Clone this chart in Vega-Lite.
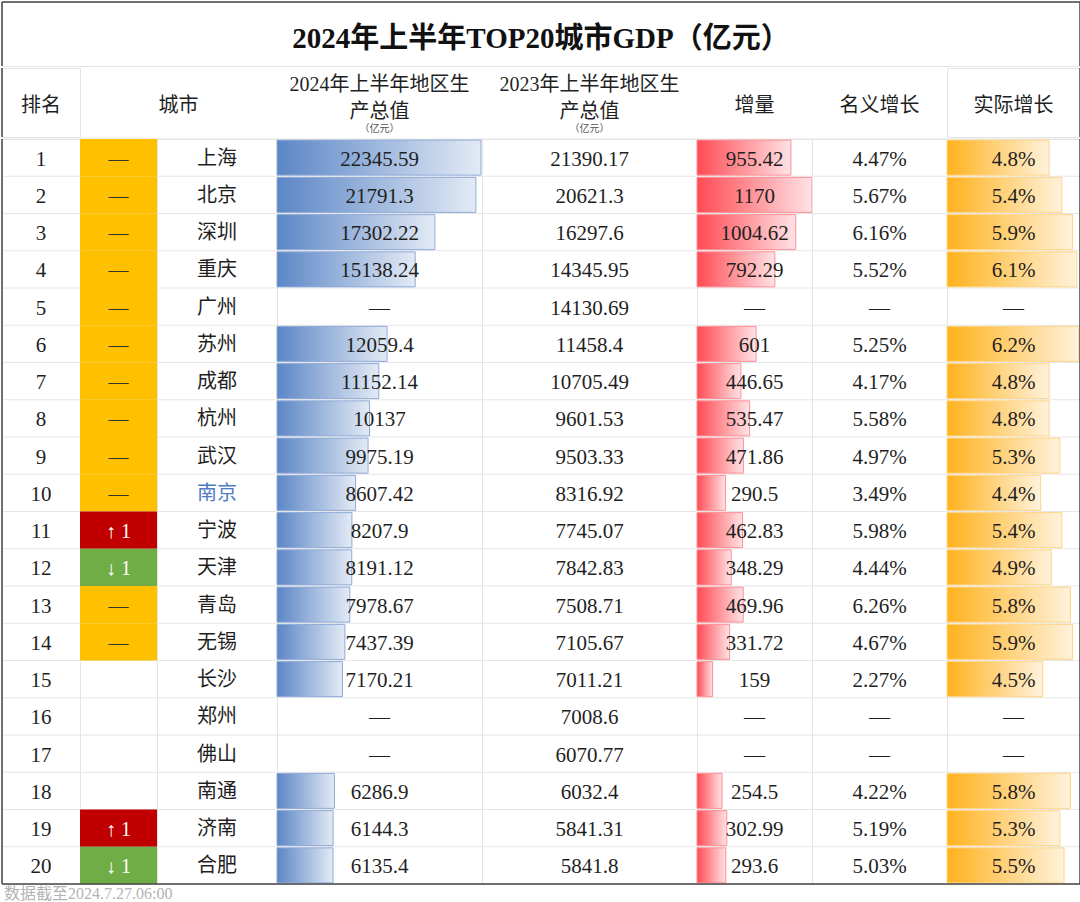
{
  "$schema": "https://vega.github.io/schema/vega-lite/v6.json",
  "padding": 0,
  "background": "white",
  "spacing": -3,
  "config": {
    "view": {"stroke": "#e4e4e4", "strokeWidth": 1},
    "concat": {"spacing": 0},
    "text": {"font": "'Liberation Serif', 'Noto Sans CJK SC'", "fontSize": 20, "color": "#1f1f1f"}
  },
  "datasets": {
    "rows": [
      {"rank": 1, "move": "—", "city": "上海", "gdp24": 22345.59, "gdp23": 21390.17, "inc": 955.42, "nominal": 0.0447, "real": 0.048},
      {"rank": 2, "move": "—", "city": "北京", "gdp24": 21791.3, "gdp23": 20621.3, "inc": 1170, "nominal": 0.0567, "real": 0.054},
      {"rank": 3, "move": "—", "city": "深圳", "gdp24": 17302.22, "gdp23": 16297.6, "inc": 1004.62, "nominal": 0.0616, "real": 0.059},
      {"rank": 4, "move": "—", "city": "重庆", "gdp24": 15138.24, "gdp23": 14345.95, "inc": 792.29, "nominal": 0.0552, "real": 0.061},
      {"rank": 5, "move": "—", "city": "广州", "gdp24": null, "gdp23": 14130.69, "inc": null, "nominal": null, "real": null},
      {"rank": 6, "move": "—", "city": "苏州", "gdp24": 12059.4, "gdp23": 11458.4, "inc": 601, "nominal": 0.0525, "real": 0.062},
      {"rank": 7, "move": "—", "city": "成都", "gdp24": 11152.14, "gdp23": 10705.49, "inc": 446.65, "nominal": 0.0417, "real": 0.048},
      {"rank": 8, "move": "—", "city": "杭州", "gdp24": 10137, "gdp23": 9601.53, "inc": 535.47, "nominal": 0.0558, "real": 0.048},
      {"rank": 9, "move": "—", "city": "武汉", "gdp24": 9975.19, "gdp23": 9503.33, "inc": 471.86, "nominal": 0.0497, "real": 0.053},
      {"rank": 10, "move": "—", "city": "南京", "gdp24": 8607.42, "gdp23": 8316.92, "inc": 290.5, "nominal": 0.0349, "real": 0.044},
      {"rank": 11, "move": "↑ 1", "city": "宁波", "gdp24": 8207.9, "gdp23": 7745.07, "inc": 462.83, "nominal": 0.0598, "real": 0.054},
      {"rank": 12, "move": "↓ 1", "city": "天津", "gdp24": 8191.12, "gdp23": 7842.83, "inc": 348.29, "nominal": 0.0444, "real": 0.049},
      {"rank": 13, "move": "—", "city": "青岛", "gdp24": 7978.67, "gdp23": 7508.71, "inc": 469.96, "nominal": 0.0626, "real": 0.058},
      {"rank": 14, "move": "—", "city": "无锡", "gdp24": 7437.39, "gdp23": 7105.67, "inc": 331.72, "nominal": 0.0467, "real": 0.059},
      {"rank": 15, "move": "", "city": "长沙", "gdp24": 7170.21, "gdp23": 7011.21, "inc": 159, "nominal": 0.0227, "real": 0.045},
      {"rank": 16, "move": "", "city": "郑州", "gdp24": null, "gdp23": 7008.6, "inc": null, "nominal": null, "real": null},
      {"rank": 17, "move": "", "city": "佛山", "gdp24": null, "gdp23": 6070.77, "inc": null, "nominal": null, "real": null},
      {"rank": 18, "move": "", "city": "南通", "gdp24": 6286.9, "gdp23": 6032.4, "inc": 254.5, "nominal": 0.0422, "real": 0.058},
      {"rank": 19, "move": "↑ 1", "city": "济南", "gdp24": 6144.3, "gdp23": 5841.31, "inc": 302.99, "nominal": 0.0519, "real": 0.053},
      {"rank": 20, "move": "↓ 1", "city": "合肥", "gdp24": 6135.4, "gdp23": 5841.8, "inc": 293.6, "nominal": 0.0503, "real": 0.055}
    ]
  },
  "vconcat": [
    {
      "width": 1078, "height": 64,
      "data": {"values": [{"title": "2024年上半年TOP20城市GDP（亿元）"}]},
      "layer": [
        {"mark": {"type": "text", "fontSize": 29, "fontWeight": "bold", "color": "#111", "dy": 5}, "encoding": {"text": {"field": "title"}}},
        {"mark": {"type": "rule", "color": "#444", "strokeWidth": 1.5}, "encoding": {"x": {"datum": 0, "type": "quantitative", "scale": {"domain": [0, 1], "nice": false, "zero": false}, "axis": null}}},
        {"mark": {"type": "rule", "color": "#444", "strokeWidth": 1.5}, "encoding": {"x": {"datum": 1, "type": "quantitative", "scale": {"domain": [0, 1], "nice": false, "zero": false}, "axis": null}}},
        {"mark": {"type": "rule", "color": "#444", "strokeWidth": 1.5}, "encoding": {"y": {"datum": 1, "type": "quantitative", "scale": {"domain": [0, 1], "nice": false, "zero": false}, "axis": null}}}
      ]
    },
    {
      "spacing": 0,
      "bounds": "flush",
      "hconcat": [
        {
          "width": 78, "height": 69,
          "data": {"values": [{"h": "排名"}]},
          "layer": [
            {"mark": {"type": "text", "dy": 3}, "encoding": {"text": {"field": "h"}}},
            {"mark": {"type": "rule", "color": "#444", "strokeWidth": 1.5}, "encoding": {"x": {"datum": 0, "type": "quantitative", "scale": {"domain": [0, 1], "nice": false, "zero": false}, "axis": null}}}
          ]
        },
        {
          "width": 197, "height": 69,
          "data": {"values": [{"h": "城市"}]},
          "mark": {"type": "text", "dy": 3},
          "encoding": {"text": {"field": "h"}}
        },
        {
          "width": 205, "height": 69,
          "data": {"values": [{"h": "2024年上半年地区生\n产总值", "u": "（亿元）"}]},
          "layer": [
            {"mark": {"type": "text", "lineBreak": "\n", "lineHeight": 27, "dy": -18}, "encoding": {"text": {"field": "h"}}},
            {"mark": {"type": "text", "fontSize": 10, "color": "#555", "dy": 26}, "encoding": {"text": {"field": "u"}}}
          ]
        },
        {
          "width": 215, "height": 69,
          "data": {"values": [{"h": "2023年上半年地区生\n产总值", "u": "（亿元）"}]},
          "layer": [
            {"mark": {"type": "text", "lineBreak": "\n", "lineHeight": 27, "dy": -18}, "encoding": {"text": {"field": "h"}}},
            {"mark": {"type": "text", "fontSize": 10, "color": "#555", "dy": 26}, "encoding": {"text": {"field": "u"}}}
          ]
        },
        {
          "width": 115, "height": 69,
          "data": {"values": [{"h": "增量"}]},
          "mark": {"type": "text", "dy": 3},
          "encoding": {"text": {"field": "h"}}
        },
        {
          "width": 135, "height": 69,
          "data": {"values": [{"h": "名义增长"}]},
          "mark": {"type": "text", "dy": 3},
          "encoding": {"text": {"field": "h"}}
        },
        {
          "width": 133, "height": 69,
          "data": {"values": [{"h": "实际增长"}]},
          "layer": [
            {"mark": {"type": "text", "dy": 3}, "encoding": {"text": {"field": "h"}}},
            {"mark": {"type": "rule", "color": "#444", "strokeWidth": 1.5}, "encoding": {"x": {"datum": 1, "type": "quantitative", "scale": {"domain": [0, 1], "nice": false, "zero": false}, "axis": null}}}
          ]
        }
      ]
    },
    {
      "spacing": 0,
      "bounds": "flush",
      "hconcat": [
        {
          "width": 78, "height": 745,
          "data": {"name": "rows"},
          "layer": [
            {"mark": {"type": "rule", "color": "#e6e6e6", "strokeWidth": 1}, "encoding": {"y": {"field": "rank", "type": "ordinal", "bandPosition": 0, "scale": {"domain": [1,2,3,4,5,6,7,8,9,10,11,12,13,14,15,16,17,18,19,20], "paddingInner": 0, "paddingOuter": 0}, "axis": null}}},
            {"mark": {"type": "text", "dy": 2, "fontSize": 21}, "encoding": {"y": {"field": "rank", "type": "ordinal", "axis": null}, "text": {"field": "rank", "type": "nominal"}}},
            {"data": {"values": [{}]}, "mark": {"type": "rule", "color": "#444", "strokeWidth": 1.5}, "encoding": {"x": {"datum": 0, "type": "quantitative", "scale": {"domain": [0, 1], "nice": false, "zero": false}, "axis": null}}},
            {"transform": [{"filter": "datum.rank === 20"}], "mark": {"type": "rule", "color": "#444", "strokeWidth": 1.5}, "encoding": {"y": {"field": "rank", "type": "ordinal", "bandPosition": 1, "axis": null}}}
          ]
        },
        {
          "width": 77, "height": 745,
          "data": {"name": "rows"},
          "layer": [
            {"mark": {"type": "rule", "color": "#e6e6e6", "strokeWidth": 1}, "encoding": {"y": {"field": "rank", "type": "ordinal", "bandPosition": 0, "scale": {"domain": [1,2,3,4,5,6,7,8,9,10,11,12,13,14,15,16,17,18,19,20], "paddingInner": 0, "paddingOuter": 0}, "axis": null}}},
            {"transform": [{"filter": "datum.move !== ''"}], "mark": {"type": "rect"}, "encoding": {"y": {"field": "rank", "type": "ordinal", "axis": null}, "color": {"field": "move", "type": "nominal", "scale": {"domain": ["—", "↑ 1", "↓ 1"], "range": ["#ffc000", "#c00000", "#70ad47"]}, "legend": null}}},
            {"transform": [{"filter": "datum.move !== ''"}], "mark": {"type": "text", "dy": 2}, "encoding": {"y": {"field": "rank", "type": "ordinal", "axis": null}, "text": {"field": "move", "type": "nominal"}, "color": {"condition": {"test": "datum.move === '—'", "value": "#333333"}, "value": "#ffffff"}}},
            {"transform": [{"filter": "datum.rank === 20"}], "mark": {"type": "rule", "color": "#444", "strokeWidth": 1.5}, "encoding": {"y": {"field": "rank", "type": "ordinal", "bandPosition": 1, "axis": null}}}
          ],
          "resolve": {"scale": {"color": "independent"}}
        },
        {
          "width": 120, "height": 745,
          "data": {"name": "rows"},
          "layer": [
            {"mark": {"type": "rule", "color": "#e6e6e6", "strokeWidth": 1}, "encoding": {"y": {"field": "rank", "type": "ordinal", "bandPosition": 0, "scale": {"domain": [1,2,3,4,5,6,7,8,9,10,11,12,13,14,15,16,17,18,19,20], "paddingInner": 0, "paddingOuter": 0}, "axis": null}}},
            {"mark": {"type": "text", "dy": 1}, "encoding": {"y": {"field": "rank", "type": "ordinal", "axis": null}, "text": {"field": "city", "type": "nominal"}, "color": {"condition": {"test": "datum.city === '南京'", "value": "#4f7cc4"}, "value": "#1f1f1f"}}},
            {"transform": [{"filter": "datum.rank === 20"}], "mark": {"type": "rule", "color": "#444", "strokeWidth": 1.5}, "encoding": {"y": {"field": "rank", "type": "ordinal", "bandPosition": 1, "axis": null}}}
          ]
        },
        {
          "width": 205, "height": 745,
          "data": {"name": "rows"},
          "layer": [
            {"mark": {"type": "rule", "color": "#e6e6e6", "strokeWidth": 1}, "encoding": {"y": {"field": "rank", "type": "ordinal", "bandPosition": 0, "scale": {"domain": [1,2,3,4,5,6,7,8,9,10,11,12,13,14,15,16,17,18,19,20], "paddingInner": 0, "paddingOuter": 0}, "axis": null}}},
            {"transform": [{"filter": "datum.gdp24 !== null"}], "mark": {"type": "bar", "height": {"band": 0.94}, "fill": {"gradient": "linear", "x1": 0, "y1": 0, "x2": 1, "y2": 0, "stops": [{"offset": 0, "color": "#5b86c6"}, {"offset": 1, "color": "#e3eaf5"}]}, "stroke": "#8eaad8", "strokeWidth": 1}, "encoding": {"y": {"field": "rank", "type": "ordinal", "axis": null}, "x": {"field": "gdp24", "type": "quantitative", "scale": {"domain": [0, 22460], "nice": false, "zero": true}, "axis": null}}},
            {"mark": {"type": "text", "dy": 2, "fontSize": 21}, "encoding": {"y": {"field": "rank", "type": "ordinal", "axis": null}, "text": {"condition": {"test": "datum.gdp24 === null", "value": "—"}, "field": "gdp24", "type": "nominal"}}},
            {"transform": [{"filter": "datum.rank === 20"}], "mark": {"type": "rule", "color": "#444", "strokeWidth": 1.5}, "encoding": {"y": {"field": "rank", "type": "ordinal", "bandPosition": 1, "axis": null}}}
          ]
        },
        {
          "width": 215, "height": 745,
          "data": {"name": "rows"},
          "layer": [
            {"mark": {"type": "rule", "color": "#e6e6e6", "strokeWidth": 1}, "encoding": {"y": {"field": "rank", "type": "ordinal", "bandPosition": 0, "scale": {"domain": [1,2,3,4,5,6,7,8,9,10,11,12,13,14,15,16,17,18,19,20], "paddingInner": 0, "paddingOuter": 0}, "axis": null}}},
            {"mark": {"type": "text", "dy": 2, "fontSize": 21}, "encoding": {"y": {"field": "rank", "type": "ordinal", "axis": null}, "text": {"field": "gdp23", "type": "nominal"}}},
            {"transform": [{"filter": "datum.rank === 20"}], "mark": {"type": "rule", "color": "#444", "strokeWidth": 1.5}, "encoding": {"y": {"field": "rank", "type": "ordinal", "bandPosition": 1, "axis": null}}}
          ]
        },
        {
          "width": 115, "height": 745,
          "data": {"name": "rows"},
          "layer": [
            {"mark": {"type": "rule", "color": "#e6e6e6", "strokeWidth": 1}, "encoding": {"y": {"field": "rank", "type": "ordinal", "bandPosition": 0, "scale": {"domain": [1,2,3,4,5,6,7,8,9,10,11,12,13,14,15,16,17,18,19,20], "paddingInner": 0, "paddingOuter": 0}, "axis": null}}},
            {"transform": [{"filter": "datum.inc !== null"}], "mark": {"type": "bar", "height": {"band": 0.94}, "fill": {"gradient": "linear", "x1": 0, "y1": 0, "x2": 1, "y2": 0, "stops": [{"offset": 0, "color": "#ff4a53"}, {"offset": 1, "color": "#ffe3e5"}]}, "stroke": "#ff8f96", "strokeWidth": 1}, "encoding": {"y": {"field": "rank", "type": "ordinal", "axis": null}, "x": {"field": "inc", "type": "quantitative", "scale": {"domain": [0, 1170], "nice": false, "zero": true}, "axis": null}}},
            {"mark": {"type": "text", "dy": 2, "fontSize": 21}, "encoding": {"y": {"field": "rank", "type": "ordinal", "axis": null}, "text": {"condition": {"test": "datum.inc === null", "value": "—"}, "field": "inc", "type": "nominal"}}},
            {"transform": [{"filter": "datum.rank === 20"}], "mark": {"type": "rule", "color": "#444", "strokeWidth": 1.5}, "encoding": {"y": {"field": "rank", "type": "ordinal", "bandPosition": 1, "axis": null}}}
          ]
        },
        {
          "width": 135, "height": 745,
          "data": {"name": "rows"},
          "layer": [
            {"mark": {"type": "rule", "color": "#e6e6e6", "strokeWidth": 1}, "encoding": {"y": {"field": "rank", "type": "ordinal", "bandPosition": 0, "scale": {"domain": [1,2,3,4,5,6,7,8,9,10,11,12,13,14,15,16,17,18,19,20], "paddingInner": 0, "paddingOuter": 0}, "axis": null}}},
            {"mark": {"type": "text", "dy": 2, "fontSize": 21}, "encoding": {"y": {"field": "rank", "type": "ordinal", "axis": null}, "text": {"condition": {"test": "datum.nominal === null", "value": "—"}, "field": "nominal", "type": "quantitative", "format": ".2%"}}},
            {"transform": [{"filter": "datum.rank === 20"}], "mark": {"type": "rule", "color": "#444", "strokeWidth": 1.5}, "encoding": {"y": {"field": "rank", "type": "ordinal", "bandPosition": 1, "axis": null}}}
          ]
        },
        {
          "width": 133, "height": 745,
          "data": {"name": "rows"},
          "layer": [
            {"mark": {"type": "rule", "color": "#e6e6e6", "strokeWidth": 1}, "encoding": {"y": {"field": "rank", "type": "ordinal", "bandPosition": 0, "scale": {"domain": [1,2,3,4,5,6,7,8,9,10,11,12,13,14,15,16,17,18,19,20], "paddingInner": 0, "paddingOuter": 0}, "axis": null}}},
            {"transform": [{"filter": "datum.real !== null"}], "mark": {"type": "bar", "height": {"band": 0.94}, "fill": {"gradient": "linear", "x1": 0, "y1": 0, "x2": 1, "y2": 0, "stops": [{"offset": 0, "color": "#ffb21c"}, {"offset": 1, "color": "#fff2dc"}]}, "stroke": "#ffd587", "strokeWidth": 1}, "encoding": {"y": {"field": "rank", "type": "ordinal", "axis": null}, "x": {"field": "real", "type": "quantitative", "scale": {"domain": [0, 0.0625], "nice": false, "zero": true}, "axis": null}}},
            {"mark": {"type": "text", "dy": 2, "fontSize": 21}, "encoding": {"y": {"field": "rank", "type": "ordinal", "axis": null}, "text": {"condition": {"test": "datum.real === null", "value": "—"}, "field": "real", "type": "quantitative", "format": ".1%"}}},
            {"data": {"values": [{}]}, "mark": {"type": "rule", "color": "#444", "strokeWidth": 1.5}, "encoding": {"x": {"datum": 0.0625, "type": "quantitative"}}},
            {"transform": [{"filter": "datum.rank === 20"}], "mark": {"type": "rule", "color": "#444", "strokeWidth": 1.5}, "encoding": {"y": {"field": "rank", "type": "ordinal", "bandPosition": 1, "axis": null}}}
          ]
        }
      ]
    },
    {
      "width": 1078, "height": 21,
      "view": {"stroke": null},
      "data": {"values": [{"note": "数据截至2024.7.27.06:00"}]},
      "mark": {"type": "text", "align": "left", "fontSize": 16, "color": "#b3b3b3", "dx": 2, "dy": -3},
      "encoding": {
        "text": {"field": "note"},
        "x": {"datum": 0, "type": "quantitative", "scale": {"domain": [0, 1], "nice": false, "zero": false}, "axis": null}
      }
    }
  ]
}
